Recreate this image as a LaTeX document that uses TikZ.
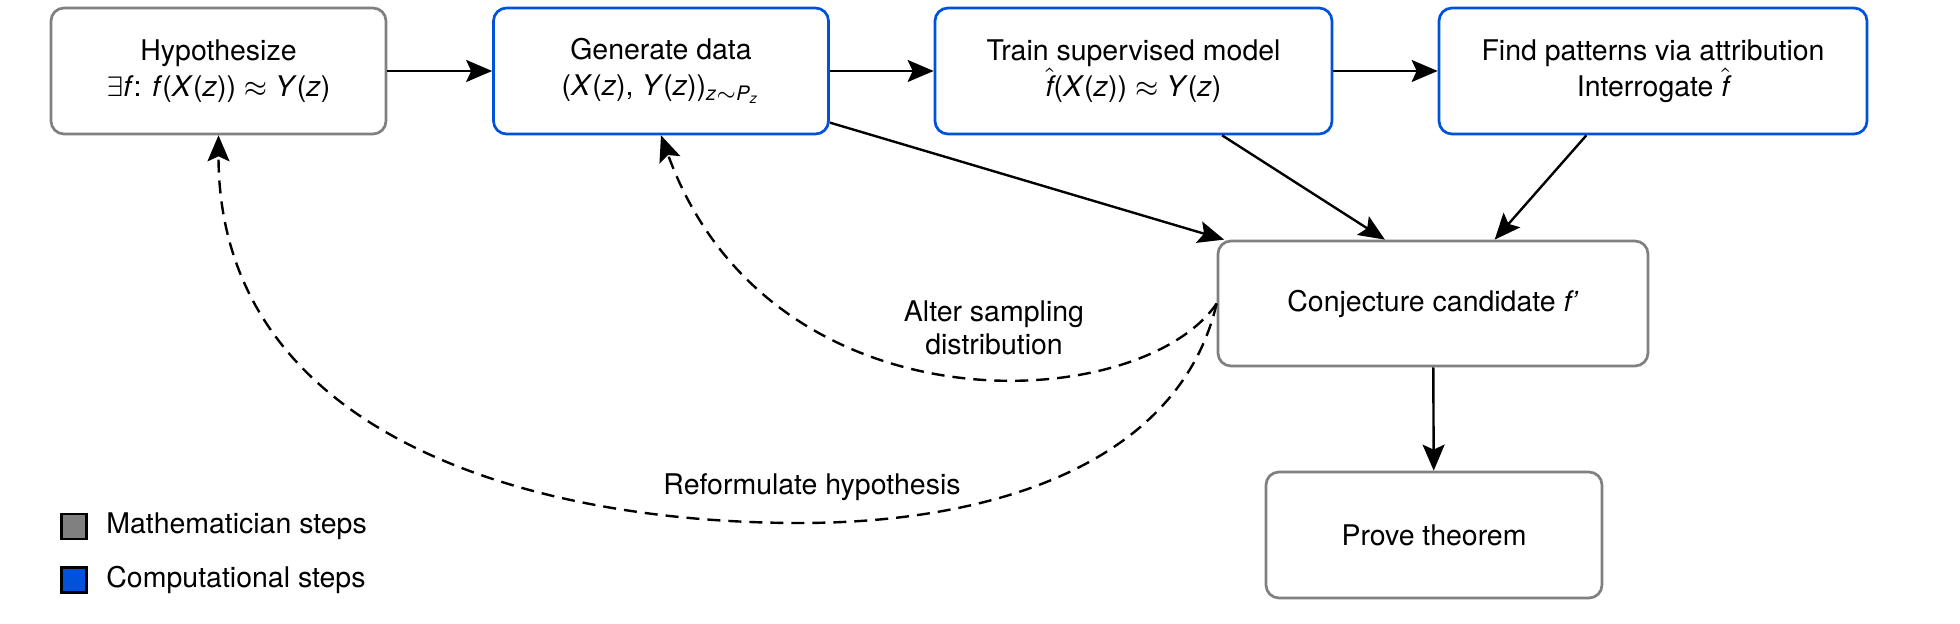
\documentclass[tikz,border=0pt]{standalone}
\usepackage{amsmath}
\usepackage{fontspec}
\setmainfont{TeX Gyre Heros}
\usetikzlibrary{arrows.meta}
\definecolor{mathgray}{RGB}{128,128,128}
\definecolor{compblue}{RGB}{0,82,220}
\newcommand{\fhat}{$\hat{\textit{f}}$}
\tikzset{
  stepbox/.style={draw, rounded corners=0.13cm, line width=0.027cm, fill=white,
    align=center, inner sep=0pt, font=\fontsize{8.1pt}{10.2pt}\selectfont},
  mathstep/.style={stepbox, draw=mathgray},
  compstep/.style={stepbox, draw=compblue},
  flow/.style={line width=0.024cm, draw=black,
    -{Stealth[length=0.26cm, width=0.22cm, inset=0.05cm]}},
  loopback/.style={flow, dash pattern=on 0.13cm off 0.08cm},
  looplabel/.style={align=center, font=\fontsize{8.1pt}{9.4pt}\selectfont},
  legendbox/.style={draw=black, line width=0.022cm, minimum size=0.25cm, inner sep=0pt},
  legendtext/.style={anchor=west, font=\fontsize{8.1pt}{9.4pt}\selectfont},
}

\begin{document}
\begin{tikzpicture}
\useasboundingbox (0,0) rectangle (19.6,6.24);
\node[mathstep, minimum width=3.35cm, minimum height=1.26cm] (hyp) at (2.185,5.53)
  {Hypothesize\\$\exists$\textit{f}: \textit{f}(\textit{X}(\textit{z})) $\approx$ \textit{Y}(\textit{z})};
\node[compstep, minimum width=3.35cm, minimum height=1.26cm] (gendata) at (6.61,5.53)
  {Generate data\\(\textit{X}(\textit{z}), \textit{Y}(\textit{z}))$_{\textit{z}\sim\textit{P}_{\textit{z}}}$};
\node[compstep, minimum width=3.97cm, minimum height=1.26cm] (train) at (11.335,5.53)
  {Train supervised model\\\fhat(\textit{X}(\textit{z})) $\approx$ \textit{Y}(\textit{z})};
\node[compstep, minimum width=4.28cm, minimum height=1.26cm] (attrib) at (16.53,5.53)
  {Find patterns via attribution\\Interrogate \fhat};
\node[mathstep, minimum width=4.30cm, minimum height=1.25cm] (conj) at (14.33,3.205)
  {Conjecture candidate \textit{f’}};
\node[mathstep, minimum width=3.36cm, minimum height=1.26cm] (prove) at (14.34,0.89)
  {Prove theorem};
\draw[flow] (hyp) -- (gendata);
\draw[flow] (gendata) -- (train);
\draw[flow] (train) -- (attrib);
\draw[flow] (gendata.-17) -- (conj.163);
\draw[flow] (train.-36) -- (conj.127);
\draw[flow] (attrib.-136) -- (conj.46);
\draw[flow] (conj) -- (prove);
\draw[loopback] (conj.west) .. controls (11.40,2.08) and (7.70,1.88) .. (gendata.south);
\draw[loopback] (conj.west) .. controls (11.80,1.64) and (10.00,1.01) .. (8.00,1.01)
  .. controls (5.20,1.01) and (2.185,1.94) .. (hyp.south);
\node[looplabel] (alterlbl) at (9.94,2.96) {Alter sampling\\distribution};
\node[looplabel] (reformlbl) at (8.12,1.37) {Reformulate hypothesis};
\node[legendbox, fill=mathgray] (mathkey) at (0.74,0.975) {};
\node[legendtext] (mathkeytext) at (0.94,0.975) {Mathematician steps};
\node[legendbox, fill=compblue] (compkey) at (0.74,0.44) {};
\node[legendtext] (compkeytext) at (0.94,0.44) {Computational steps};
\end{tikzpicture}
\end{document}
